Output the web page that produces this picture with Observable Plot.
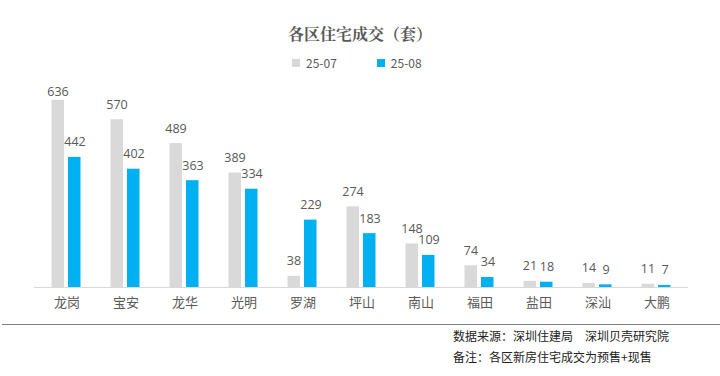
<!DOCTYPE html>
<html><head><meta charset="utf-8">
<script src="https://cdn.jsdelivr.net/npm/d3@7"></script>
<script src="https://cdn.jsdelivr.net/npm/@observablehq/plot@0.6"></script>
<style>
body{margin:0;background:#fff;font-family:"Noto Sans CJK SC","Noto Sans",sans-serif;}
#wrap{position:relative;width:720px;height:376px;overflow:hidden;}
#title{position:absolute;left:0;width:720px;top:22px;text-align:center;font-size:16px;font-weight:bold;color:#595959;font-family:"Noto Serif CJK SC","Noto Sans CJK SC",serif;}
#legend{position:absolute;top:54px;left:292px;font-size:12px;color:#595959;display:flex;gap:0;}
.li{display:flex;align-items:center;margin-right:40px;}
.sw{width:8px;height:8px;margin-right:6px;}
.foot{position:absolute;left:453px;font-size:12px;color:#222;}
#rule{position:absolute;left:2px;width:718px;top:324px;height:0;border-top:1.5px solid #7f7f7f;}
</style></head>
<body><div id="wrap">
<div id="chart"></div>
<div id="title">各区住宅成交（套）</div>
<div id="legend"><div class="li"><div class="sw" style="background:#d9d9d9"></div>25-07</div><div class="li"><div class="sw" style="background:#00b0f0"></div>25-08</div></div>
<div id="rule"></div>
<div class="foot" style="top:327px">数据来源：深圳住建局　深圳贝壳研究院</div>
<div class="foot" style="top:348px">备注：各区新房住宅成交为预售+现售</div>
</div>
<script>
const districts = ["龙岗","宝安","龙华","光明","罗湖","坪山","南山","福田","盐田","深汕","大鹏"];
const jul = [636,570,489,389,38,274,148,74,21,14,11];
const aug = [442,402,363,334,229,183,109,34,18,9,7];
const seriesNames = ["25-07","25-08"];
const colors = ["#d9d9d9","#00b0f0"];

const dJul = districts.map((d,i)=>({district:d, value:jul[i]}));
const dAug = districts.map((d,i)=>({district:d, value:aug[i]}));
const maxV = d3.max(jul.concat(aug));
const txt = {fill:"#595959", fontSize:13, fontFamily:"Noto Sans CJK SC, sans-serif"};
const num = {fill:"#595959", fontSize:12.5, fontFamily:"Open Sans, Noto Sans, sans-serif", letterSpacing:"-0.3px"};

const chart = Plot.plot({
  width:720, height:376,
  marginLeft:34, marginRight:32, marginTop:81, marginBottom:89,
  x:{domain:districts, padding:0, axis:null},
  y:{domain:[0,700], axis:null},
  marks:[
    Plot.barY(dJul,{x:"district", y:"value", fill:colors[0], insetLeft:14.5, insetRight:32}),
    Plot.barY(dAug,{x:"district", y:"value", fill:colors[1], insetLeft:31, insetRight:15.5}),
    Plot.ruleY([0],{stroke:"#d9d9d9", strokeWidth:1}),
    Plot.text(dJul.filter(d=>d.value<maxV),{x:"district", y:"value", text:d=>String(d.value), dx:-9, dy:-15, ...num}),
    Plot.text(dJul.filter(d=>d.value===maxV),{x:"district", y:"value", text:d=>String(d.value), dx:-9, dy:-8, ...num}),
    Plot.text(dAug,{x:"district", y:"value", text:d=>String(d.value), dx:8, dy:-15, ...num}),
    Plot.text(districts,{x:d=>d, y:0, text:d=>d, dy:15, ...txt})
  ]
});
document.getElementById("chart").appendChild(chart);
</script>
</body></html>
